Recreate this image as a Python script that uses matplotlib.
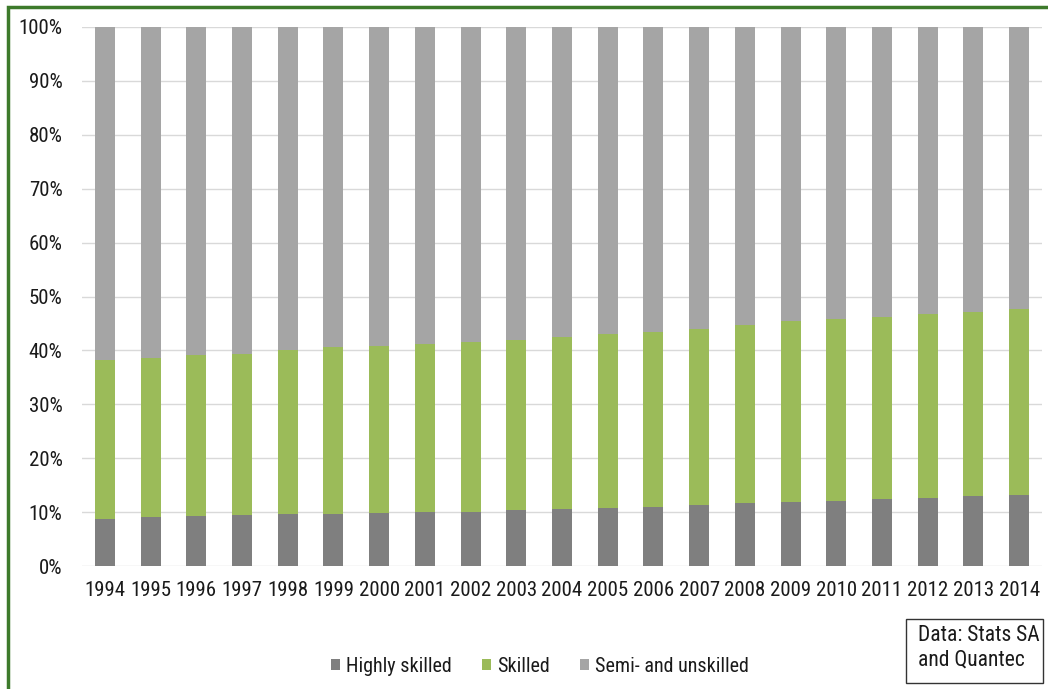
import matplotlib
matplotlib.use("Agg")
import matplotlib.pyplot as plt
from matplotlib import font_manager
from matplotlib.patches import Rectangle
from matplotlib.ticker import PercentFormatter

installed = {f.name for f in font_manager.fontManager.ttflist}
narrow = next((n for n in ["Liberation Sans Narrow", "Arial Narrow",
                           "Roboto Condensed", "Open Sans Condensed"]
               if n in installed), None)
base_family = narrow if narrow else "Lato"
plt.rcParams['font.family'] = [base_family, 'DejaVu Sans']

years = [str(y) for y in range(1994, 2015)]
highly_skilled = [8.8, 9.1, 9.3, 9.5, 9.7, 9.7, 9.9, 10.0, 10.0, 10.4, 10.5,
                  10.8, 11.0, 11.3, 11.7, 11.9, 12.1, 12.4, 12.6, 12.9, 13.1]
# cumulative share of highly skilled + skilled
upper_two = [38.2, 38.6, 39.1, 39.3, 40.1, 40.6, 40.8, 41.2, 41.5, 41.9, 42.4,
             43.0, 43.5, 43.9, 44.7, 45.4, 45.8, 46.2, 46.7, 47.2, 47.6]
skilled = [round(u - h, 1) for u, h in zip(upper_two, highly_skilled)]
semi_unskilled = [round(100 - u, 1) for u in upper_two]

series_names = ["Highly skilled", "Skilled", "Semi- and unskilled"]
colors = ["#7f7f7f", "#9bbb59", "#a5a5a5"]
text_color = "#1a1a1a"
fs_tick = 15 if narrow else 12
fs_leg = 14.5 if narrow else 12
fs_note = 15.5 if narrow else 12.5

W, H = 1048, 689
fig = plt.figure(figsize=(W / 100, H / 100), dpi=100)
ax = fig.add_axes([82 / W, 1 - 566 / H, (1042 - 82) / W, (566 - 27) / H])

x = list(range(len(years)))
bw = 0.44
ax.bar(x, highly_skilled, bw, color=colors[0], label=series_names[0], zorder=3)
ax.bar(x, skilled, bw, bottom=highly_skilled, color=colors[1],
       label=series_names[1], zorder=3)
ax.bar(x, semi_unskilled, bw, bottom=upper_two, color=colors[2],
       label=series_names[2], zorder=3)

ax.set_xlim(-0.5, len(years) - 0.5)
ax.set_ylim(0, 100)
ax.set_yticks(range(0, 101, 10))
ax.yaxis.set_major_formatter(PercentFormatter(decimals=0))
ax.set_xticks(x)
ax.set_xticklabels(years)
ax.tick_params(axis='both', length=0, labelsize=fs_tick, colors=text_color)
ax.tick_params(axis='y', pad=14)
ax.tick_params(axis='x', pad=11)
ax.grid(axis='y', color='#d9d9d9', linewidth=1, zorder=0)
for s in ax.spines.values():
    s.set_visible(False)

leg = fig.legend(loc='center', bbox_to_anchor=(540 / W, 1 - 666 / H),
                 ncol=3, frameon=False, fontsize=fs_leg, handlelength=0.45,
                 handleheight=0.45, columnspacing=1.5, handletextpad=0.3)
for t in leg.get_texts():
    t.set_color(text_color)

# source note in a framed box
fig.patches.append(Rectangle((906 / W, 1 - 683 / H), 137 / W, 64 / H,
                             transform=fig.transFigure, facecolor='white',
                             edgecolor='#333333', linewidth=1.0))
fig.text(918 / W, 1 - 648 / H, "Data: Stats SA\nand Quantec", fontsize=fs_note,
         color=text_color, ha='left', va='center', linespacing=1.2)

# outer green frame
fig.patches.append(Rectangle((8 / W, -0.05), 1.1, 1 - 6.5 / H + 0.05,
                             transform=fig.transFigure, fill=False,
                             edgecolor='#3d7a2b', linewidth=2.5))

fig.savefig("out.png", dpi=100, facecolor='white')
